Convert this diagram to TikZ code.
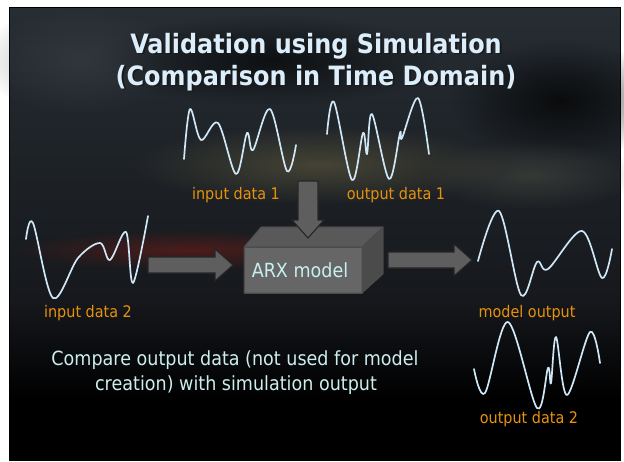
\documentclass[tikz,border=0pt]{standalone}
\usepackage{fontspec}
\setmainfont{DejaVu Sans}[FakeStretch=0.9]
\usetikzlibrary{calc,fadings}
\definecolor{wavec}{HTML}{CFE7F7}
\definecolor{labelc}{HTML}{E8920C}
\definecolor{titlec}{HTML}{DCEEFB}
\definecolor{textc}{HTML}{CDEEEE}
\definecolor{bgtop}{HTML}{262D33}
\definecolor{bgmid}{HTML}{16181C}
\definecolor{facefront}{HTML}{666666}
\definecolor{facetop}{HTML}{595959}
\definecolor{faceright}{HTML}{4B4B4B}
\definecolor{arrowgray}{HTML}{5E5E5E}
\definecolor{cloudy}{RGB}{95,90,62}
\definecolor{cloudg}{RGB}{80,80,70}
\definecolor{cloudr}{RGB}{110,28,24}
\definecolor{cloudb}{RGB}{62,68,74}
\tikzfading[name=softblob, inner color=transparent!0, outer color=transparent!100]
\tikzset{
  wave/.style={draw=wavec, line width=1.7pt, line cap=round, line join=round},
  lbl/.style={text=labelc, font=\fontsize{16}{19}\selectfont, anchor=base, inner sep=0pt},
  titletext/.style={text=titlec, font=\fontsize{26.6}{33}\selectfont\bfseries, anchor=base, inner sep=0pt},
  titleshadow/.style={text=black!90, font=\fontsize{26.6}{33}\selectfont\bfseries, anchor=base, inner sep=0pt},
  bodytext/.style={text=textc, font=\fontsize{19.5}{25}\selectfont, anchor=base, inner sep=0pt},
  blockarrow/.style={fill=arrowgray, draw=black!85, line width=1.1pt, line join=miter},
  boxface/.style={draw=black!70, line width=0.6pt, line join=round},
  cloud/.style={path fading=softblob}
}
\begin{document}
\begin{tikzpicture}[x=1pt,y=-1pt]
\useasboundingbox (0,0) rectangle (624,461);
% frame and background
\fill[white] (0,0) rectangle (624,461);
\fill[black] (9,7) rectangle (621,461);
\shade[top color=bgtop, bottom color=bgmid] (10,8) rectangle (620,300);
\shade[top color=bgmid, bottom color=black] (10,300) rectangle (620,400);
\fill[black] (10,400) rectangle (620,461);
% soft clouds
\fill[cloud, fill=black, opacity=0.7] (560,100) ellipse [x radius=110, y radius=60];
\fill[cloud, fill=black, opacity=0.6] (270,60) ellipse [x radius=170, y radius=45];
\fill[cloud, fill=cloudy, opacity=0.6] (320,165) ellipse [x radius=190, y radius=40];
\fill[cloud, fill=cloudg, opacity=0.5] (530,175) ellipse [x radius=110, y radius=35];
\fill[cloud, fill=cloudr, opacity=0.6] (190,250) ellipse [x radius=180, y radius=20];
\fill[cloud, fill=cloudb, opacity=0.5] (80,60) ellipse [x radius=100, y radius=55];

% title
\node[titleshadow] (t1s) at (317.8,54.8) {Validation using Simulation};
\node[titleshadow] (t2s) at (317.8,86.8) {(Comparison in Time Domain)};
\node[titletext] (t1) at (316,53) {Validation using Simulation};
\node[titletext] (t2) at (316,85) {(Comparison in Time Domain)};

% waves
\draw[wave] plot[smooth, tension=0.55] coordinates {(184,159) (190,109) (201,140) (218,123) (236,174) (247,133) (253,150) (270,109) (287,171) (296,145)};
\draw[wave] plot[smooth, tension=0.55] coordinates {(327,134) (334,102) (352,180) (363,133) (367,154) (372,114) (389,179) (400,133) (402,138) (418,98) (429,154)};
\draw[wave] plot[smooth, tension=0.55] coordinates {(26,239) (33,223) (53,298) (78,258) (100,243) (110,260) (126,232) (133,283) (148,216)};
\draw[wave] plot[smooth, tension=0.55] coordinates {(478,261) (499,211) (521,295) (537,262) (548,269) (582,231) (602,278) (612,249)};
\draw[wave] plot[smooth, tension=0.55] coordinates {(474,369) (485,393) (508,322) (537,408) (548,368) (551,383) (556,337) (567,395) (590,332) (600,363)};

% labels
\node[lbl] (in1) at (236,199) {input data 1};
\node[lbl] (out1) at (396,199) {output data 1};
\node[lbl] (in2) at (88,317) {input data 2};
\node[lbl] (mout) at (527,317) {model output};
\node[lbl] (out2) at (529,423) {output data 2};

% ARX box
\coordinate (fA) at (244,247);
\coordinate (fB) at (362,247);
\coordinate (fC) at (362,293);
\coordinate (fD) at (244,293);
\coordinate (bA) at (261,227);
\coordinate (bB) at (383,227);
\coordinate (bC) at (383,274);
\fill[boxface, fill=facetop] (fA) -- (bA) -- (bB) -- (fB) -- cycle;
\fill[boxface, fill=faceright] (fB) -- (bB) -- (bC) -- (fC) -- cycle;
\fill[boxface, fill=facefront] (fA) -- (fB) -- (fC) -- (fD) -- cycle;
\draw[boxface] (fA) -- (bA) -- (bB) -- (fB) -- cycle (fB) -- (bB) -- (bC) -- (fC) -- cycle (fA) -- (fB) -- (fC) -- (fD) -- cycle;
\node[bodytext, text={rgb,255:red,200;green,240;blue,240}] (arx) at (300,277) {ARX model};

% block arrows
\coordinate (dS) at (308,181);
\coordinate (dE) at (308,238);
\draw[blockarrow] ($(dS)+(-10,0)$) -- ($(dS)+(10,0)$) -- ($(dE)+(10,-18)$) -- ($(dE)+(16,-18)$) -- (dE) -- ($(dE)+(-16,-18)$) -- ($(dE)+(-10,-18)$) -- cycle;
\coordinate (lS) at (148,265);
\coordinate (lE) at (233,265);
\draw[blockarrow] ($(lS)+(0,-8)$) -- ($(lE)+(-18,-8)$) -- ($(lE)+(-18,-16)$) -- (lE) -- ($(lE)+(-18,16)$) -- ($(lE)+(-18,8)$) -- ($(lS)+(0,8)$) -- cycle;
\coordinate (rS) at (388,260);
\coordinate (rE) at (472,260);
\draw[blockarrow] ($(rS)+(0,-8)$) -- ($(rE)+(-18,-8)$) -- ($(rE)+(-18,-16)$) -- (rE) -- ($(rE)+(-18,16)$) -- ($(rE)+(-18,8)$) -- ($(rS)+(0,8)$) -- cycle;

% compare text
\node[bodytext] (cmp1) at (235,365) {Compare output data (not used for model};
\node[bodytext] (cmp2) at (236,390) {creation) with simulation output};
\end{tikzpicture}
\end{document}
